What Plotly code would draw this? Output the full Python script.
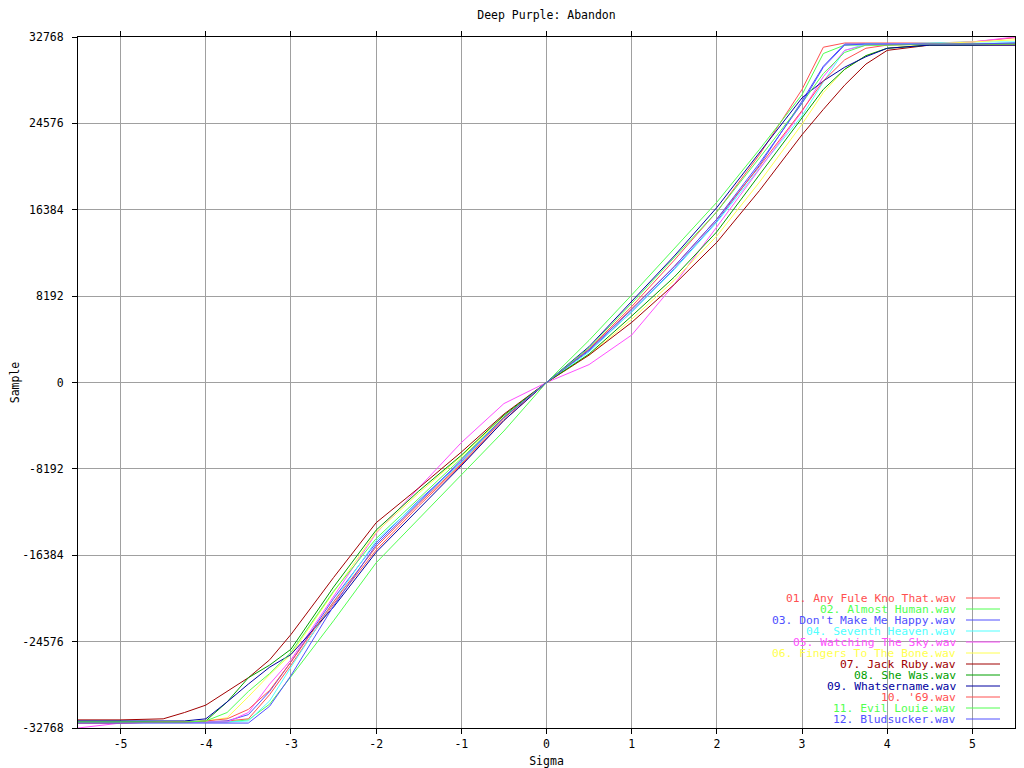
import plotly.graph_objects as go

title = "Deep Purple: Abandon"

sigma = [-5.5, -5.0, -4.5, -4.25, -4.0, -3.75, -3.5, -3.25, -3.0, -2.5, -2.0, -1.5, -1.0, -0.5,
         0.0, 0.5, 1.0, 1.5, 2.0, 2.5, 3.0, 3.25, 3.5, 3.75, 4.0, 4.5, 5.0, 5.5]

track_names = [
    "01. Any Fule Kno That.wav",
    "02. Almost Human.wav",
    "03. Don't Make Me Happy.wav",
    "04. Seventh Heaven.wav",
    "05. Watching The Sky.wav",
    "06. Fingers To The Bone.wav",
    "07. Jack Ruby.wav",
    "08. She Was.wav",
    "09. Whatsername.wav",
    "10. '69.wav",
    "11. Evil Louie.wav",
    "12. Bludsucker.wav",
]

track_colors = ["#ff5050", "#50ff50", "#5050ff", "#50ffff", "#ff50ff", "#ffff50",
                "#a00000", "#00a000", "#0000a0", "#ff5050", "#50ff50", "#5050ff"]

t01 = [-32300, -32300, -32200, -32200, -32200, -32100, -31900, -29600, -26800, -21000, -15900, -11700, -7800, -3600,
       0, 3200, 7200, 11600, 16200, 21600, 27800, 31800, 32200, 32200, 32200, 32200, 32300, 32700]
t02 = [-32200, -32200, -32200, -32200, -32200, -32200, -32000, -30500, -27900, -22600, -17100, -12900, -8700, -4600,
       0, 4000, 8300, 12700, 17100, 22100, 27300, 31200, 32000, 32000, 32000, 32100, 32100, 32100]
t03 = [-32200, -32200, -32200, -32200, -32200, -32100, -31500, -29300, -26500, -20500, -15200, -11200, -7500, -3300,
       0, 3000, 6700, 10800, 15300, 20600, 26700, 30000, 32100, 32100, 32100, 32100, 32100, 32200]
t04 = [-32200, -32200, -32200, -32200, -32200, -32200, -32100, -30200, -27000, -20800, -15000, -11300, -7600, -3200,
       0, 2900, 6700, 10700, 15200, 20300, 25300, 28500, 31500, 32100, 32100, 32200, 32300, 32300]
t05 = [-32768, -32300, -32200, -32200, -32200, -32200, -31300, -28600, -26300, -20300, -14300, -10000, -5700, -2000,
       0, 1700, 4500, 9300, 14800, 20200, 25700, 29000, 31500, 32000, 32100, 32100, 32300, 32768]
t06 = [-32200, -32200, -32200, -32200, -32100, -31800, -29800, -27700, -25800, -19900, -14200, -10500, -7000, -3200,
       0, 2600, 6000, 9700, 13900, 19000, 24500, 27500, 29700, 31000, 31700, 32100, 32300, 32500]
t07 = [-32000, -32000, -31900, -31300, -30600, -29300, -28000, -26300, -23900, -18500, -13300, -10000, -6600, -3000,
       0, 2600, 5700, 9300, 13300, 18200, 23500, 25900, 28200, 30200, 31500, 32000, 32000, 32000]
t08 = [-32200, -32200, -32200, -32200, -32100, -30300, -28000, -26800, -25300, -19400, -14000, -10300, -6900, -3100,
       0, 2700, 6300, 10000, 14300, 19700, 25200, 27800, 29700, 31000, 31700, 32000, 32000, 32100]
t09 = [-32100, -32100, -32100, -32100, -31900, -30300, -28600, -27000, -25800, -21300, -16100, -12000, -7900, -3600,
       0, 3400, 7700, 12000, 16600, 21800, 27000, 28600, 29900, 30900, 31700, 32000, 32000, 32000]
t10 = [-32300, -32300, -32200, -32200, -32100, -31900, -31000, -29200, -26500, -20800, -15600, -11500, -7700, -3400,
       0, 3100, 7000, 11000, 15500, 20500, 25800, 28600, 30600, 31700, 32000, 32100, 32100, 32100]
t11 = [-32200, -32200, -32200, -32200, -32100, -31300, -29300, -27600, -25600, -19800, -14800, -11000, -7200, -3300,
       0, 3300, 7500, 11800, 16200, 21300, 26500, 29300, 31300, 32000, 32000, 32100, 32100, 32100]
t12 = [-32300, -32300, -32300, -32300, -32300, -32300, -32300, -30700, -27800, -21200, -15400, -11400, -7400, -3300,
       0, 3100, 6900, 11000, 15500, 20800, 26500, 29900, 32000, 32100, 32100, 32100, 32100, 32200]

tracks = [t01, t02, t03, t04, t05, t06, t07, t08, t09, t10, t11, t12]

x_ticks = [-5, -4, -3, -2, -1, 0, 1, 2, 3, 4, 5]
x_ticktext = ["-5", "-4", "-3", "-2", "-1", "0", "1", "2", "3", "4", "5"]
y_ticks = [-32768, -24576, -16384, -8192, 0, 8192, 16384, 24576, 32768]
y_ticktext = ["-32768", "-24576", "-16384", "-8192", "0", "8192", "16384", "24576", "32768"]

FONT = "DejaVu Sans Mono"
FS = 11.5
LEG_FS = 11.3

fig = go.Figure()
for name, col, vals in zip(track_names, track_colors, tracks):
    fig.add_trace(go.Scatter(x=sigma, y=vals, mode="lines", name=name,
                             line=dict(color=col, width=1)))

# The page body adds an 8px offset; figure is sized so the plot lands where the reference has it.
OFF = 8
FIG_W, FIG_H = 1024 - OFF, 768 - OFF
# plot-area geometry in screen pixels
L, R, T, B = 78, 1015, 37, 728
W, H = R - L, B - T

annotations = []
shapes = []
for i, (name, col) in enumerate(zip(track_names, track_colors)):
    ypix = 598 + 11 * i
    yp = (B - ypix) / H
    annotations.append(dict(x=(958 - L) / W, y=yp, xref="paper", yref="paper",
                            xanchor="right", yanchor="middle", showarrow=False,
                            text=name, font=dict(family=FONT, size=LEG_FS, color=col)))
    shapes.append(dict(type="line", xref="paper", yref="paper",
                       x0=(966 - L) / W, x1=(1000 - L) / W, y0=yp, y1=yp,
                       line=dict(color=col, width=1)))

fig.update_layout(
    width=FIG_W, height=FIG_H,
    margin=dict(l=L - OFF, r=FIG_W - (R - OFF), t=T - OFF, b=FIG_H - (B - OFF)),
    paper_bgcolor="white", plot_bgcolor="white",
    showlegend=False,
    font=dict(family=FONT, size=FS, color="black"),
    title=dict(text=title, x=0.5, xref="paper", xanchor="center",
               y=1 - (15 - OFF) / FIG_H, yref="container", yanchor="middle",
               font=dict(family=FONT, size=FS, color="black")),
    annotations=annotations,
    shapes=shapes,
    xaxis=dict(range=[-5.5, 5.5], tickmode="array", tickvals=x_ticks, ticktext=x_ticktext,
               showgrid=True, gridcolor="#a0a0a0", gridwidth=1, zeroline=False,
               showline=True, linecolor="black", linewidth=1, mirror="ticks",
               ticks="outside", ticklen=5, tickcolor="black", automargin=False,
               title=dict(text="Sigma", standoff=7, font=dict(family=FONT, size=FS))),
    yaxis=dict(range=[-32768, 32768], tickmode="array", tickvals=y_ticks, ticktext=y_ticktext,
               showgrid=True, gridcolor="#a0a0a0", gridwidth=1, zeroline=False,
               showline=True, linecolor="black", linewidth=1, mirror="ticks",
               ticks="outside", ticklen=5, tickcolor="black", automargin=False,
               ticklabelstandoff=6,
               title=dict(text="Sample", standoff=13, font=dict(family=FONT, size=FS))),
)

fig.write_html("out.html")
